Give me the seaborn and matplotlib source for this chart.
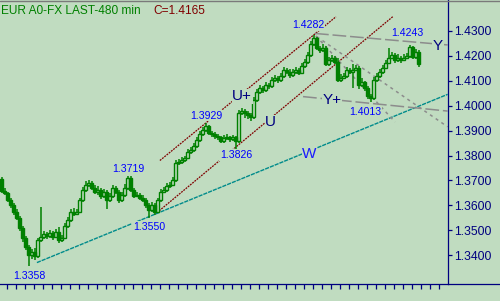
import numpy as np
import pandas as pd
import matplotlib
matplotlib.use("Agg")
import matplotlib.pyplot as plt
from matplotlib.lines import Line2D
import seaborn as sns

# ---------------- data ----------------
opens = [1.3705, 1.3658, 1.3650, 1.3622, 1.3602, 1.3574, 1.3550, 1.3510, 1.3470, 1.3434,
         1.3401, 1.3413, 1.3397, 1.3462, 1.3474, 1.3486, 1.3478, 1.3490, 1.3474, 1.3494,
         1.3462, 1.3470, 1.3518, 1.3542, 1.3574, 1.3566, 1.3574, 1.3622, 1.3662, 1.3682,
         1.3690, 1.3670, 1.3654, 1.3662, 1.3638, 1.3654, 1.3622, 1.3638, 1.3670, 1.3654,
         1.3622, 1.3642, 1.3670, 1.3710, 1.3662, 1.3638, 1.3642, 1.3630, 1.3622, 1.3602,
         1.3582, 1.3602, 1.3574, 1.3622, 1.3654, 1.3662, 1.3678, 1.3682, 1.3702, 1.3770,
         1.3774, 1.3782, 1.3790, 1.3814, 1.3822, 1.3838, 1.3862, 1.3886, 1.3902, 1.3918,
         1.3890, 1.3886, 1.3878, 1.3874, 1.3858, 1.3870, 1.3874, 1.3866, 1.3874, 1.3858,
         1.3970, 1.3978, 1.3970, 1.3962, 1.3954, 1.4022, 1.4054, 1.4070, 1.4062, 1.4082,
         1.4078, 1.4103, 1.4111, 1.4103, 1.4119, 1.4143, 1.4135, 1.4123, 1.4135, 1.4143,
         1.4131, 1.4159, 1.4175, 1.4203, 1.4247, 1.4271, 1.4231, 1.4223, 1.4231, 1.4167,
         1.4183, 1.4191, 1.4175, 1.4103, 1.4111, 1.4119, 1.4143, 1.4135, 1.4143, 1.4151,
         1.4082, 1.4094, 1.4070, 1.4038, 1.4030, 1.4103, 1.4119, 1.4135, 1.4151, 1.4171,
         1.4191, 1.4203, 1.4183, 1.4191, 1.4183, 1.4191, 1.4199, 1.4235, 1.4195, 1.4215]
closes = [1.3658, 1.3650, 1.3622, 1.3602, 1.3574, 1.3550, 1.3510, 1.3470, 1.3434, 1.3401,
          1.3413, 1.3397, 1.3462, 1.3474, 1.3486, 1.3478, 1.3490, 1.3474, 1.3494, 1.3462,
          1.3470, 1.3518, 1.3542, 1.3574, 1.3566, 1.3574, 1.3622, 1.3662, 1.3682, 1.3690,
          1.3670, 1.3654, 1.3662, 1.3638, 1.3654, 1.3622, 1.3638, 1.3670, 1.3654, 1.3622,
          1.3642, 1.3670, 1.3710, 1.3662, 1.3638, 1.3642, 1.3630, 1.3622, 1.3602, 1.3582,
          1.3602, 1.3574, 1.3622, 1.3654, 1.3662, 1.3678, 1.3682, 1.3702, 1.3770, 1.3774,
          1.3782, 1.3790, 1.3814, 1.3822, 1.3838, 1.3862, 1.3886, 1.3902, 1.3918, 1.3890,
          1.3886, 1.3878, 1.3874, 1.3858, 1.3870, 1.3874, 1.3866, 1.3874, 1.3858, 1.3970,
          1.3978, 1.3970, 1.3962, 1.3954, 1.4022, 1.4054, 1.4070, 1.4062, 1.4082, 1.4078,
          1.4103, 1.4111, 1.4103, 1.4119, 1.4143, 1.4135, 1.4123, 1.4135, 1.4143, 1.4131,
          1.4159, 1.4175, 1.4203, 1.4247, 1.4271, 1.4231, 1.4223, 1.4231, 1.4167, 1.4183,
          1.4191, 1.4175, 1.4103, 1.4111, 1.4119, 1.4143, 1.4135, 1.4143, 1.4151, 1.4082,
          1.4094, 1.4070, 1.4038, 1.4030, 1.4103, 1.4119, 1.4135, 1.4151, 1.4171, 1.4191,
          1.4203, 1.4183, 1.4191, 1.4183, 1.4191, 1.4199, 1.4235, 1.4195, 1.4215, 1.4165]
highs = [1.3712, 1.3668, 1.3655, 1.3630, 1.3610, 1.3585, 1.3556, 1.3518, 1.3478, 1.3440,
         1.3425, 1.3428, 1.3470, 1.3593, 1.3498, 1.3495, 1.3500, 1.3498, 1.3505, 1.3512,
         1.3480, 1.3528, 1.3555, 1.3586, 1.3590, 1.3584, 1.3630, 1.3672, 1.3696, 1.3702,
         1.3698, 1.3680, 1.3676, 1.3668, 1.3665, 1.3660, 1.3650, 1.3682, 1.3678, 1.3660,
         1.3655, 1.3685, 1.3719, 1.3716, 1.3668, 1.3655, 1.3650, 1.3640, 1.3630, 1.3610,
         1.3615, 1.3610, 1.3630, 1.3665, 1.3675, 1.3690, 1.3694, 1.3712, 1.3780, 1.3786,
         1.3794, 1.3800, 1.3825, 1.3835, 1.3850, 1.3874, 1.3898, 1.3915, 1.3929, 1.3924,
         1.3900, 1.3895, 1.3888, 1.3880, 1.3882, 1.3886, 1.3880, 1.3884, 1.3880, 1.3982,
         1.3990, 1.3986, 1.3978, 1.3970, 1.4035, 1.4066, 1.4082, 1.4080, 1.4094, 1.4090,
         1.4115, 1.4124, 1.4118, 1.4130, 1.4156, 1.4150, 1.4145, 1.4148, 1.4155, 1.4150,
         1.4170, 1.4186, 1.4215, 1.4258, 1.4282, 1.4276, 1.4240, 1.4245, 1.4238, 1.4195,
         1.4203, 1.4200, 1.4190, 1.4125, 1.4130, 1.4155, 1.4150, 1.4165, 1.4162, 1.4158,
         1.4110, 1.4100, 1.4078, 1.4045, 1.4115, 1.4130, 1.4146, 1.4162, 1.4183, 1.4230,
         1.4215, 1.4210, 1.4205, 1.4198, 1.4205, 1.4212, 1.4243, 1.4240, 1.4228, 1.4222]
lows = [1.3650, 1.3640, 1.3612, 1.3590, 1.3560, 1.3540, 1.3498, 1.3455, 1.3420, 1.3358,
        1.3385, 1.3380, 1.3390, 1.3455, 1.3465, 1.3466, 1.3470, 1.3462, 1.3468, 1.3450,
        1.3455, 1.3465, 1.3510, 1.3535, 1.3558, 1.3560, 1.3568, 1.3615, 1.3655, 1.3675,
        1.3660, 1.3645, 1.3640, 1.3625, 1.3630, 1.3585, 1.3612, 1.3630, 1.3645, 1.3610,
        1.3615, 1.3635, 1.3662, 1.3655, 1.3630, 1.3632, 1.3622, 1.3612, 1.3590, 1.3550,
        1.3575, 1.3560, 1.3568, 1.3615, 1.3648, 1.3655, 1.3670, 1.3676, 1.3695, 1.3762,
        1.3765, 1.3775, 1.3784, 1.3806, 1.3815, 1.3830, 1.3855, 1.3878, 1.3895, 1.3882,
        1.3876, 1.3868, 1.3862, 1.3850, 1.3850, 1.3862, 1.3855, 1.3858, 1.3826, 1.3850,
        1.3962, 1.3950, 1.3948, 1.3940, 1.3948, 1.4015, 1.4045, 1.4050, 1.4055, 1.4066,
        1.4070, 1.4095, 1.4092, 1.4096, 1.4112, 1.4126, 1.4112, 1.4116, 1.4128, 1.4122,
        1.4125, 1.4150, 1.4168, 1.4195, 1.4240, 1.4222, 1.4212, 1.4215, 1.4158, 1.4160,
        1.4175, 1.4165, 1.4095, 1.4096, 1.4105, 1.4112, 1.4126, 1.4070, 1.4138, 1.4065,
        1.4075, 1.4060, 1.4025, 1.4013, 1.4022, 1.4095, 1.4110, 1.4128, 1.4145, 1.4165,
        1.4185, 1.4172, 1.4176, 1.4170, 1.4178, 1.4185, 1.4192, 1.4185, 1.4188, 1.4155]

# trend lines: ([bar0, bar1], [price0, price1])
line_W = ([11.8, 148.7], [1.3371, 1.4045])
line_U_upper = ([52.8, 111.5], [1.3780, 1.4356])
line_U_lower = ([51.8, 130.4], [1.3571, 1.4356])
line_Y = ([104.5, 148.7], [1.4289, 1.4243])
line_Yplus = ([100.5, 148.7], [1.4036, 1.3978])
fan_A = ([105.1, 148.7], [1.4276, 1.3915])
fan_B = ([104.8, 131.2], [1.4279, 1.3934])

price_labels = ["1.3358", "1.3550", "1.3719", "1.3826", "1.3929", "1.4282", "1.4243", "1.4013"]
price_lab_x = [9.2, 49.2, 42.2, 78.2, 68.2, 102.2, 135.2, 121.2]
price_lab_y = [1.3319, 1.3514, 1.3746, 1.3802, 1.3960, 1.4321, 1.4291, 1.3976]

wave_labels = ["U+", "U", "Y+", "Y", "W"]
wave_lab_x = [80.2, 89.7, 110.2, 145.5, 102.7]
wave_lab_y = [1.4038, 1.3934, 1.4024, 1.4239, 1.3806]
wave_lab_col = ["#000080", "#000080", "#000080", "#000080", "#1a1aff"]

yticks = [1.34, 1.35, 1.36, 1.37, 1.38, 1.39, 1.40, 1.41, 1.42, 1.43]

# ---------------- style ----------------
BG = "#c0dcc0"
GREEN = "#008000"
NAVY = "#000080"
sns.set_theme(style="white")
plt.rcParams["font.family"] = ["Liberation Sans", "DejaVu Sans"]

fig = plt.figure(figsize=(5.0, 3.01), dpi=100, facecolor=BG)
ax = fig.add_axes([0.0, 16.7 / 301, 447.7 / 500, 1 - 16.7 / 301])
ax.set_facecolor(BG)

df = pd.DataFrame({"o": opens, "c": closes, "h": highs, "l": lows})
df["x"] = np.arange(len(df))
up = df["c"] >= df["o"]

# wicks
ax.vlines(df["x"], df["l"], df["h"], color=GREEN, lw=1.1, zorder=3)
# bodies
body_bottom = np.minimum(df["o"], df["c"])
body_h = np.maximum(np.abs(df["c"] - df["o"]), 0.00012)
ax.bar(df["x"][up], body_h[up], bottom=body_bottom[up], width=0.82,
       color=BG, edgecolor=GREEN, linewidth=1.0, zorder=4)
ax.bar(df["x"][~up], body_h[~up], bottom=body_bottom[~up], width=0.82,
       color=GREEN, edgecolor=GREEN, linewidth=1.0, zorder=4)

def trend(line, color, ls, lw):
    d = pd.DataFrame({"bar": line[0], "price": line[1]})
    sns.lineplot(data=d, x="bar", y="price", ax=ax, color=color, linestyle=ls,
                 linewidth=lw, sort=False, zorder=2)

trend(line_W, "#008b8b", (0, (3, 0.7)), 1.0)
trend(line_U_upper, "#800000", (0, (1.5, 0.8)), 0.9)
trend(line_U_lower, "#800000", (0, (1.5, 0.8)), 0.9)
trend(line_Y, "#8c8c8c", (0, (9, 2.5)), 1.1)
trend(line_Yplus, "#8c8c8c", (0, (9, 2.5)), 1.1)
trend(fan_A, "#8c8c8c", (0, (2, 2.5)), 1.1)
trend(fan_B, "#8c8c8c", (0, (2, 2.5)), 1.1)

for t, x, y in zip(price_labels, price_lab_x, price_lab_y):
    ax.text(x, y, t, color="#0000ff", fontsize=7.6, ha="center", va="center", zorder=6,
            bbox=dict(facecolor=BG, edgecolor="none", pad=0.6))
for t, x, y, c in zip(wave_labels, wave_lab_x, wave_lab_y, wave_lab_col):
    ax.text(x, y, t, color=c, fontsize=11, ha="center", va="center", zorder=6,
            bbox=dict(facecolor=BG, edgecolor="none", pad=0.3))

ax.set_xlim(-0.5, 148.73)
ax.set_ylim(1.3284, 1.4423)
ax.set_xlabel("")
ax.set_ylabel("")

ax.yaxis.tick_right()
ax.set_yticks(yticks)
ax.set_yticklabels([f"{v:.4f}" for v in yticks])
ax.tick_params(axis="y", which="both", right=True, left=False, length=3.2, width=0.9,
               color=NAVY, labelcolor=NAVY, labelsize=8.7, pad=1.2, direction="out")
ax.set_xticks(1.93 + 3 * np.arange(49))
ax.set_xticklabels([])
ax.tick_params(axis="x", which="both", bottom=True, length=3.8, width=0.9,
               color=NAVY, direction="out")

for s in ["top", "left"]:
    ax.spines[s].set_visible(False)
for s in ["right", "bottom"]:
    ax.spines[s].set_color(NAVY)
    ax.spines[s].set_linewidth(0.9)

# extend bottom axis line to figure edge, gray top border
fig.add_artist(Line2D([447.7 / 500, 1.0], [16.7 / 301, 16.7 / 301], color=NAVY,
                      lw=0.9, transform=fig.transFigure))
fig.add_artist(Line2D([0, 1.0], [1 - 0.5 / 301, 1 - 0.5 / 301], color="#7a7a7a",
                      lw=1.0, transform=fig.transFigure))

fig.text(1 / 500, 1 - 14 / 301, "EUR A0-FX LAST-480 min", color=GREEN, fontsize=8.6,
         ha="left", va="baseline")
fig.text(153.3 / 500, 1 - 14 / 301, "C=1.4165", color="#800000", fontsize=8.6,
         ha="left", va="baseline")

fig.savefig("out.png", dpi=100, facecolor=BG)
